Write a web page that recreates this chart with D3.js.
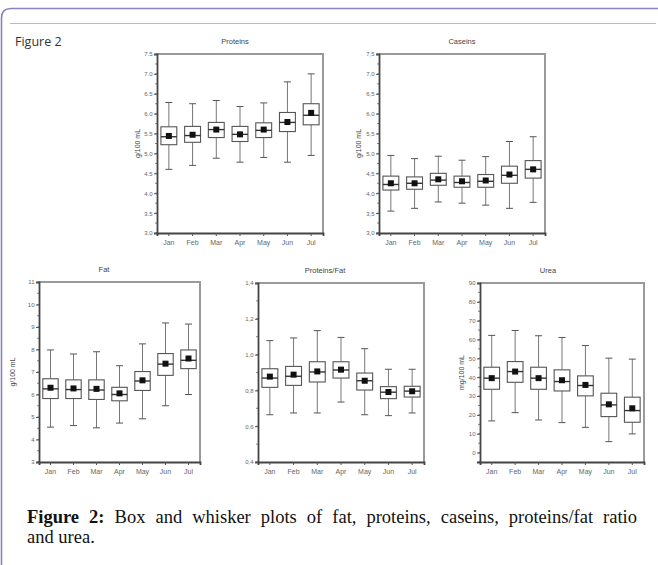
<!DOCTYPE html>
<html><head><meta charset="utf-8">
<script src="https://cdnjs.cloudflare.com/ajax/libs/d3/7.8.5/d3.min.js"></script>
<style>
html,body{margin:0;padding:0;background:#fff;}
#wrap{position:relative;width:658px;height:565px;overflow:hidden;}
.cap{position:absolute;left:27px;width:610px;font-family:"Liberation Serif","Times New Roman",serif;font-size:18.5px;line-height:20px;color:#111;white-space:nowrap;}
#cap1{top:507px;text-align:justify;text-align-last:justify;}
#cap2{top:527px;}
</style></head>
<body><div id="wrap"><svg id="chart" width="658" height="565"></svg>
<div class="cap" id="cap1"><b>Figure 2:</b> Box and whisker plots of fat, proteins, caseins, proteins/fat ratio</div>
<div class="cap" id="cap2">and urea.</div></div>
<script>
// Categories
const months = ["Jan","Feb","Mar","Apr","May","Jun","Jul"];
// Each row: [lower whisker, Q1, median, Q3, upper whisker, mean]
const proteins = [
  [4.60,5.22,5.42,5.67,6.28,5.44],
  [4.70,5.28,5.45,5.68,6.25,5.47],
  [4.88,5.40,5.60,5.78,6.33,5.60],
  [4.78,5.30,5.48,5.68,6.18,5.48],
  [4.90,5.40,5.58,5.77,6.27,5.60],
  [4.78,5.55,5.78,6.03,6.80,5.79],
  [4.95,5.72,5.96,6.25,7.00,6.02]
];
const caseins = [
  [3.55,4.08,4.22,4.43,4.95,4.25],
  [3.62,4.10,4.25,4.41,4.87,4.25],
  [3.78,4.20,4.33,4.50,4.93,4.35],
  [3.75,4.15,4.27,4.43,4.83,4.30],
  [3.70,4.15,4.30,4.47,4.92,4.32],
  [3.62,4.25,4.45,4.68,5.30,4.47],
  [3.77,4.38,4.60,4.82,5.42,4.60]
];
const fat = [
  [4.55,5.82,6.25,6.70,7.98,6.30],
  [4.62,5.82,6.22,6.65,7.80,6.27],
  [4.52,5.78,6.20,6.65,7.90,6.25],
  [4.73,5.72,6.00,6.32,7.28,6.05],
  [4.92,6.18,6.60,7.02,8.25,6.63],
  [5.50,6.85,7.35,7.82,9.18,7.37],
  [6.00,7.15,7.52,7.98,9.13,7.60]
];
const proteinsFat = [
  [0.664,0.817,0.869,0.921,1.078,0.877],
  [0.674,0.828,0.879,0.934,1.093,0.888],
  [0.674,0.847,0.903,0.960,1.134,0.906],
  [0.735,0.869,0.914,0.960,1.096,0.916],
  [0.664,0.802,0.854,0.897,1.033,0.854],
  [0.659,0.754,0.790,0.821,0.918,0.791],
  [0.674,0.763,0.796,0.823,0.918,0.795]
];
const urea = [
  [16.8,33.6,39.5,45.3,62.2,39.5],
  [21.2,37.3,43.0,48.3,64.8,43.0],
  [17.3,33.6,39.5,45.3,62.0,39.5],
  [15.9,32.7,37.7,43.9,61.1,38.4],
  [13.4,30.1,35.6,40.7,56.8,35.9],
  [5.8,19.1,25.3,31.5,50.1,25.6],
  [9.9,16.1,22.3,29.4,49.6,23.5]
];
// Tick labels
const proteinsTicks = ["3.0","3.5","4.0","4.5","5.0","5.5","6.0","6.5","7.0","7.5"];
const caseinsTicks = ["3,0","3,5","4,0","4,5","5,0","5,5","6,0","6,5","7,0","7,5"];
const fatTicks = ["3","4","5","6","7","8","9","10","11"];
const pfTicks = ["0,4","0,6","0,8","1,0","1,2","1,4"];
const ureaTicks = ["0","10","20","30","40","50","60","70","80","90"];

const svg = d3.select("#chart");

// Figure frame
svg.append("path")
  .attr("d","M1.5,570 L1.5,18 Q1.5,8.5 11,8.5 L660,8.5")
  .attr("fill","none").attr("stroke","#8a82c2").attr("stroke-width",1.6);
svg.append("line").attr("x1",10).attr("x2",656).attr("y1",23.5).attr("y2",23.5)
  .attr("stroke","#bbb").attr("stroke-width",1);
svg.append("text").attr("x",15).attr("y",46).text("Figure 2")
  .attr("font-family","'Liberation Sans Narrow','Open Sans',sans-serif").attr("font-size",12.5).attr("fill","#333");

function panel(cfg){
  const {left,top,right,bottom,domain,ticks,tickVals,minor,title,titleX,ylabel,ylabelX,data} = cfg;
  const g = svg.append("g");
  const y = d3.scaleLinear().domain(domain).range([bottom,top]);
  const x = d3.scaleBand().domain(months).range([left,right]).paddingInner(0).paddingOuter(0);
  const cx = m => x(m) + x.bandwidth()/2;
  const bw = x.bandwidth()*0.67;
  const font = "'Liberation Sans',Arial,sans-serif";

  // frame top/right
  g.append("path").attr("d",`M${left},${top} L${right},${top} L${right},${bottom}`)
    .attr("fill","none").attr("stroke","#9a9a9a").attr("stroke-width",2);

  // minor ticks
  const minorVals = d3.range(domain[0], domain[1]+1e-9, minor);
  g.selectAll(".mn").data(minorVals).join("line")
    .attr("x1",left-2).attr("x2",left).attr("y1",d=>y(d)).attr("y2",d=>y(d))
    .attr("stroke","#666").attr("stroke-width",0.8);

  // y axis
  const ya = d3.axisLeft(y).tickValues(tickVals).tickFormat((d,i)=>ticks[i]).tickSize(3).tickPadding(1.5);
  const yg = g.append("g").attr("transform",`translate(${left},0)`).call(ya);
  yg.select(".domain").attr("stroke","#444").attr("stroke-width",1.8);
  yg.selectAll(".tick line").attr("stroke","#555");
  yg.selectAll("text").attr("font-family",font).attr("font-size",6).attr("fill","#666");

  // x axis
  const xa = d3.axisBottom(x).tickSize(3).tickPadding(4);
  const xg = g.append("g").attr("transform",`translate(0,${bottom})`).call(xa);
  xg.select(".domain").attr("stroke","#444").attr("stroke-width",1.8);
  xg.selectAll(".tick line").attr("stroke","#555");
  xg.selectAll("text").attr("font-family",font).attr("font-size",7).attr("fill","#666");

  // boxes
  const bx = g.selectAll(".bx").data(months.map((m,i)=>({m,v:data[i]}))).join("g");
  bx.append("line").attr("x1",d=>cx(d.m)).attr("x2",d=>cx(d.m))
    .attr("y1",d=>y(d.v[0])).attr("y2",d=>y(d.v[1])).attr("stroke","#777").attr("stroke-width",1);
  bx.append("line").attr("x1",d=>cx(d.m)).attr("x2",d=>cx(d.m))
    .attr("y1",d=>y(d.v[3])).attr("y2",d=>y(d.v[4])).attr("stroke","#777").attr("stroke-width",1);
  [0,4].forEach(k=>{
    bx.append("line").attr("x1",d=>cx(d.m)-3.5).attr("x2",d=>cx(d.m)+3.5)
      .attr("y1",d=>y(d.v[k])).attr("y2",d=>y(d.v[k])).attr("stroke","#555").attr("stroke-width",1);
  });
  bx.append("rect").attr("x",d=>cx(d.m)-bw/2).attr("width",bw)
    .attr("y",d=>y(d.v[3])).attr("height",d=>y(d.v[1])-y(d.v[3]))
    .attr("fill","#fff").attr("stroke","#555").attr("stroke-width",1.1);
  bx.append("line").attr("x1",d=>cx(d.m)-bw/2).attr("x2",d=>cx(d.m)+bw/2)
    .attr("y1",d=>y(d.v[2])).attr("y2",d=>y(d.v[2])).attr("stroke","#333").attr("stroke-width",1.4);
  bx.append("rect").attr("x",d=>cx(d.m)-3).attr("y",d=>y(d.v[5])-3)
    .attr("width",6).attr("height",6).attr("fill","#111");

  g.append("text").attr("x",titleX).attr("y",top-10).attr("text-anchor","middle")
    .attr("font-family",font).attr("font-size",7.5).attr("fill","#444").text(title);
  if (ylabel){
    g.append("text").attr("transform",`translate(${ylabelX},${(top+bottom)/2}) rotate(-90)`)
      .attr("text-anchor","middle").attr("font-family",font).attr("font-size",7)
      .attr("fill","#444").text(ylabel);
  }
}

panel({left:157,top:54,right:323,bottom:233,domain:[3,7.5],tickVals:d3.range(0,10).map(i=>3+i*0.5),
  ticks:proteinsTicks,minor:0.25,title:"Proteins",titleX:235,ylabel:"g/100 mL",ylabelX:140,data:proteins});
panel({left:379,top:54,right:545,bottom:233,domain:[3,7.5],tickVals:d3.range(0,10).map(i=>3+i*0.5),
  ticks:caseinsTicks,minor:0.25,title:"Caseins",titleX:462,ylabel:"g/100 mL",ylabelX:361,data:caseins});
panel({left:39,top:282,right:200,bottom:462,domain:[3,11],tickVals:d3.range(3,12),
  ticks:fatTicks,minor:0.5,title:"Fat",titleX:104,ylabel:"g/100 mL",ylabelX:15,data:fat});
panel({left:258,top:283,right:424,bottom:462,domain:[0.4,1.4],tickVals:[0.4,0.6,0.8,1.0,1.2,1.4],
  ticks:pfTicks,minor:0.1,title:"Proteins/Fat",titleX:325,ylabel:null,data:proteinsFat});
panel({left:480,top:283,right:644,bottom:462,domain:[-5,90],tickVals:d3.range(0,100,10),
  ticks:ureaTicks,minor:5,title:"Urea",titleX:548,ylabel:"mg/100 mL",ylabelX:464,data:urea});
</script>
</body></html>
